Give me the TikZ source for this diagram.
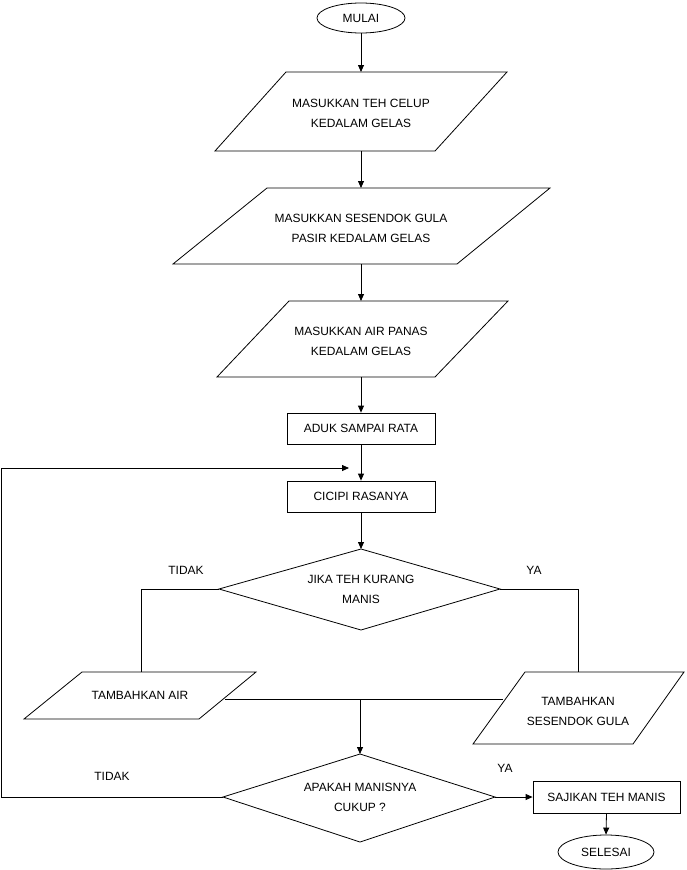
\documentclass[tikz,border=0pt]{standalone}
\usepackage{fontspec}
\setmainfont{Liberation Sans}
\usetikzlibrary{shapes.geometric,arrows.meta}
\begin{document}
\begin{tikzpicture}[x=1bp,y=-1bp,
  every node/.style={font=\fontsize{12}{20}\selectfont, align=center, inner sep=0pt},
  shp/.style={draw, line width=0.8bp},
  term/.style={shp, ellipse},
  procbox/.style={shp, rectangle},
  lbl/.style={},
  conn/.style={line width=0.8bp},
  arr/.style={conn, -{Triangle[length=7bp,width=6bp]}}]
\useasboundingbox (0,0) rectangle (687,870);
% terminals
\node[term, minimum width=88bp, minimum height=30bp] (mulai) at (361,18) {MULAI};
\node[term, minimum width=96bp, minimum height=34bp] (selesai) at (606,852) {SELESAI};
% parallelograms
\draw[shp] (286,72) -- (507,72) -- (435,151) -- (215,151) -- cycle;
\coordinate (p1n) at (361,72); \coordinate (p1s) at (361,151);
\node (t1) at (361,113) {MASUKKAN TEH CELUP\\KEDALAM GELAS};
\draw[shp] (267,188) -- (550,188) -- (457,264) -- (173,264) -- cycle;
\coordinate (p2n) at (361,188); \coordinate (p2s) at (361,264);
\node (t2) at (361,228) {MASUKKAN SESENDOK GULA\\PASIR KEDALAM GELAS};
\draw[shp] (289,301) -- (508,301) -- (435,377) -- (217,377) -- cycle;
\coordinate (p3n) at (361,301); \coordinate (p3s) at (361,377);
\node (t3) at (361,341) {MASUKKAN AIR PANAS\\KEDALAM GELAS};
% boxes
\node[procbox, minimum width=148bp, minimum height=31bp] (aduk) at (361,428.5) {ADUK SAMPAI RATA};
\node[procbox, minimum width=148bp, minimum height=31bp] (cicipi) at (361,496.5) {CICIPI RASANYA};
% decision 1
\coordinate (d1n) at (361,549); \coordinate (d1e) at (500,589);
\coordinate (d1s) at (361,630); \coordinate (d1w) at (219,589);
\draw[shp] (d1n) -- (d1e) -- (d1s) -- (d1w) -- cycle;
\node (d1) at (361,589) {JIKA TEH KURANG\\MANIS};
% side parallelograms
\draw[shp] (82,672) -- (256,672) -- (199,719) -- (24,719) -- cycle;
\coordinate (pan) at (141,672); \coordinate (pae) at (225,699);
\node (ta) at (140,695) {TAMBAHKAN AIR};
\draw[shp] (525,672) -- (684,672) -- (633,744) -- (473,744) -- cycle;
\coordinate (pbn) at (578,672); \coordinate (pbw) at (503,699);
\node (tb) at (578,711) {TAMBAHKAN\\SESENDOK GULA};
% decision 2
\coordinate (d2n) at (360,754); \coordinate (d2e) at (495,797);
\coordinate (d2s) at (360,842); \coordinate (d2w) at (223,797);
\draw[shp] (d2n) -- (d2e) -- (d2s) -- (d2w) -- cycle;
\node (d2) at (360,797) {APAKAH MANISNYA\\CUKUP ?};
\node[procbox, minimum width=147bp, minimum height=32bp] (saji) at (606.5,797) {SAJIKAN TEH MANIS};
% labels
\node[lbl] (l1) at (186,570) {TIDAK};
\node[lbl] (l2) at (534,570) {YA};
\node[lbl] (l3) at (112,776) {TIDAK};
\node[lbl] (l4) at (505,768) {YA};
% connectors
\draw[arr] (mulai.south) -- (p1n);
\draw[arr] (p1s) -- (p2n);
\draw[arr] (p2s) -- (p3n);
\draw[arr] (p3s) -- (aduk.north);
\draw[arr] (aduk.south) -- (cicipi.north);
\draw[arr] (cicipi.south) -- (d1n);
\draw[conn] (d1w) -| (pan);
\draw[conn] (d1e) -| (pbn);
\draw[conn] (pae) -- (pbw);
\coordinate (mj) at (360,699);
\draw[arr] (mj) -- (d2n);
\coordinate (fb) at (349,468);
\draw[arr] (d2w) -- (1,797) -- (1,468) -- (fb);
\draw[arr] (d2e) -- (saji.west);
\draw[arr] (saji.south) -- (selesai.north);
\end{tikzpicture}
\end{document}
